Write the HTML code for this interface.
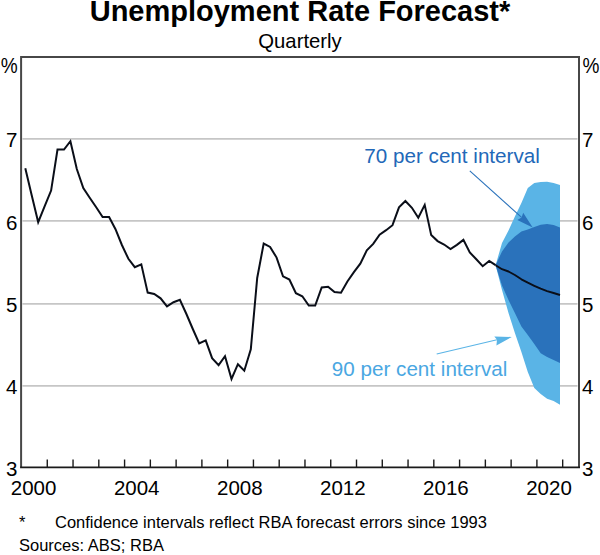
<!DOCTYPE html>
<html><head><meta charset="utf-8"><style>
html,body{margin:0;padding:0;background:#fff;}
svg{display:block;}
text{font-family:"Liberation Sans",sans-serif;}
</style></head><body>
<svg width="600" height="555" viewBox="0 0 600 555">
<rect width="600" height="555" fill="#fff"/>
<text x="300" y="21" text-anchor="middle" font-size="29" font-weight="bold" fill="#000">Unemployment Rate Forecast*</text>
<text x="300" y="47.5" text-anchor="middle" font-size="20.3" fill="#000">Quarterly</text>
<g stroke="#c6c6c6" stroke-width="1.8"><line x1="22.5" y1="138.9" x2="577.5" y2="138.9"/><line x1="22.5" y1="220.8" x2="577.5" y2="220.8"/><line x1="22.5" y1="303.9" x2="577.5" y2="303.9"/><line x1="22.5" y1="385.8" x2="577.5" y2="385.8"/></g>
<polygon points="495.6,265.2 502.0,243.0 508.5,230.5 514.9,216.5 521.4,203.0 527.8,188.0 534.3,183.0 540.7,182.0 547.1,181.8 553.6,183.0 560.0,185.0 560.0,404.7 553.6,401.0 547.1,398.8 540.7,394.0 534.3,388.0 527.8,372.0 521.4,352.0 514.9,333.0 508.5,313.0 502.0,290.0 495.6,265.2" fill="#5ab4e6"/>
<polygon points="495.6,265.2 502.0,251.5 508.5,242.5 514.9,236.5 521.4,231.5 527.8,229.5 534.3,227.0 540.7,224.7 547.1,224.0 553.6,225.0 560.0,227.5 560.0,363.0 553.6,360.0 547.1,357.0 540.7,353.2 534.3,344.0 527.8,335.0 521.4,326.5 514.9,313.0 508.5,300.0 502.0,285.5 495.6,265.2" fill="#2a72bb"/>
<polyline points="25.3,168.3 31.7,195.2 38.2,222.2 44.6,206.4 51.1,190.6 57.5,149.5 64.0,149.5 70.4,141.2 76.8,169.0 83.3,188.0 89.7,197.7 96.2,207.3 102.6,217.0 109.1,217.0 115.5,229.2 121.9,245.0 128.4,258.8 134.8,267.2 141.3,264.3 147.7,292.6 154.2,294.0 160.6,298.3 167.0,306.4 173.5,302.2 179.9,299.8 186.4,314.0 192.8,329.0 199.2,343.4 205.7,340.4 212.1,358.2 218.6,365.1 225.0,356.2 231.5,379.0 237.9,364.2 244.3,370.7 250.8,349.3 257.2,278.0 263.7,243.5 270.1,246.9 276.6,257.6 283.0,276.4 289.4,279.6 295.9,293.2 302.3,296.3 308.8,305.6 315.2,305.6 321.7,287.4 328.1,286.7 334.5,292.1 341.0,292.8 347.4,281.5 353.9,272.2 360.3,263.7 366.8,250.4 373.2,243.9 379.6,234.6 386.1,230.2 392.5,225.2 399.0,207.4 405.4,201.0 411.9,207.8 418.3,217.7 424.7,204.9 431.2,235.1 437.6,241.1 444.1,244.5 450.5,249.0 456.9,244.9 463.4,239.9 469.8,252.4 476.3,259.3 482.7,266.2 489.2,260.9 495.6,265.2" fill="none" stroke="#0a0e18" stroke-width="2" stroke-linejoin="miter"/>
<polyline points="495.6,265.2 502.0,269.2 508.5,271.5 514.9,275.0 521.4,279.3 527.8,282.7 534.3,285.8 540.7,288.7 547.1,291.1 553.6,293.0 560.0,295.0" fill="none" stroke="#0a0e18" stroke-width="1.9" stroke-linejoin="round"/>
<g stroke="#2a72bb" stroke-width="1.1" fill="#2a72bb">
<line x1="469.8" y1="170.8" x2="521.6" y2="217.4"/>
<polygon points="532.7,227.4 517.3,220.1 521.6,217.4 523.2,212.8" stroke="none"/>
</g>
<g stroke="#5ab4e6" stroke-width="1.1" fill="#5ab4e6">
<line x1="436.7" y1="354" x2="497" y2="339.8"/>
<polygon points="511.8,337 494.3,336.4 497,339.8 496.4,345.4" stroke="none"/>
</g>
<g stroke="#1a1a1a" stroke-width="1.4"><line x1="47.27" y1="459.5" x2="47.27" y2="467.5"/><line x1="73.04" y1="459.5" x2="73.04" y2="467.5"/><line x1="98.81" y1="459.5" x2="98.81" y2="467.5"/><line x1="124.58" y1="459.5" x2="124.58" y2="467.5"/><line x1="150.35" y1="459.5" x2="150.35" y2="467.5"/><line x1="176.12" y1="459.5" x2="176.12" y2="467.5"/><line x1="201.89" y1="459.5" x2="201.89" y2="467.5"/><line x1="227.66" y1="459.5" x2="227.66" y2="467.5"/><line x1="253.43" y1="459.5" x2="253.43" y2="467.5"/><line x1="279.20" y1="459.5" x2="279.20" y2="467.5"/><line x1="304.97" y1="459.5" x2="304.97" y2="467.5"/><line x1="330.74" y1="459.5" x2="330.74" y2="467.5"/><line x1="356.51" y1="459.5" x2="356.51" y2="467.5"/><line x1="382.28" y1="459.5" x2="382.28" y2="467.5"/><line x1="408.05" y1="459.5" x2="408.05" y2="467.5"/><line x1="433.82" y1="459.5" x2="433.82" y2="467.5"/><line x1="459.59" y1="459.5" x2="459.59" y2="467.5"/><line x1="485.36" y1="459.5" x2="485.36" y2="467.5"/><line x1="511.13" y1="459.5" x2="511.13" y2="467.5"/><line x1="536.90" y1="459.5" x2="536.90" y2="467.5"/><line x1="562.67" y1="459.5" x2="562.67" y2="467.5"/></g>
<path d="M21.1,467.3 V57 H579 V467.3" fill="none" stroke="#474747" stroke-width="2"/>
<line x1="20.1" y1="467.3" x2="580" y2="467.3" stroke="#1a1a1a" stroke-width="1.8"/>
<g font-size="20.5" fill="#000">
<text transform="translate(17.6,72.8) scale(0.93,1.07)" text-anchor="end">%</text><text transform="translate(582.5,72.8) scale(0.93,1.07)">%</text>
<text x="17.5" y="147.3" text-anchor="end">7</text><text x="582" y="147.3">7</text><text x="17.5" y="229.5" text-anchor="end">6</text><text x="582" y="229.5">6</text><text x="17.5" y="311.7" text-anchor="end">5</text><text x="582" y="311.7">5</text><text x="17.5" y="393.9" text-anchor="end">4</text><text x="582" y="393.9">4</text><text x="17.5" y="476.1" text-anchor="end">3</text><text x="582" y="476.1">3</text>
<text x="33.6" y="495.4" text-anchor="middle">2000</text><text x="136.7" y="495.4" text-anchor="middle">2004</text><text x="239.8" y="495.4" text-anchor="middle">2008</text><text x="342.8" y="495.4" text-anchor="middle">2012</text><text x="445.9" y="495.4" text-anchor="middle">2016</text><text x="549.0" y="495.4" text-anchor="middle">2020</text>
</g>
<text x="364.3" y="162.8" font-size="20.65" fill="#2368b8">70 per cent interval</text>
<text x="331.8" y="375.6" font-size="20.65" fill="#4aa7e2">90 per cent interval</text>
<g font-size="16.5" fill="#000">
<text x="19" y="527.6">*</text>
<text x="55" y="527.6">Confidence intervals reflect RBA forecast errors since 1993</text>
<text x="19" y="550.6">Sources: ABS; RBA</text>
</g>
</svg>
</body></html>
